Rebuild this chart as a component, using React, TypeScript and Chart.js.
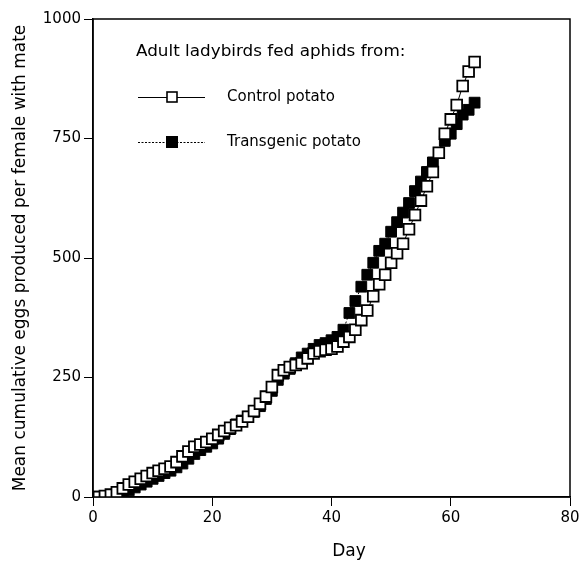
import React, { useEffect, useRef } from "react";
import { Chart, registerables } from "chart.js";

Chart.register(...registerables);

const days: number[] = Array.from({ length: 65 }, (_, i) => i);

const controlPotato: number[] = [
  0, 0, 2, 5, 10, 18, 26, 32, 38, 44, 50, 55, 59, 64, 73, 85, 95, 105, 110, 115,
  122, 130, 138, 145, 150, 158, 168, 180, 195, 210, 230, 255, 265, 272, 276, 280,
  290, 300, 305, 308, 310, 315, 325, 335, 350, 370, 390, 420, 445, 465, 490, 510,
  530, 560, 590, 620, 650, 680, 720, 760, 790, 820, 860, 890, 910,
];

const transgenicPotato: number[] = [
  0, 0, 0, 0, 3, 8, 14, 20, 26, 32, 38, 44, 50, 55, 62, 70, 80, 90, 98, 105,
  112, 122, 132, 142, 152, 160, 168, 178, 190, 205, 222, 245, 258, 268, 280, 292,
  300, 310, 318, 322, 328, 335, 350, 385, 410, 440, 465, 490, 515, 530, 555, 575,
  595, 615, 640, 660, 680, 700, 720, 745, 760, 780, 800, 810, 825,
];

const xTicks: number[] = [0, 20, 40, 60, 80];
const yTicks: number[] = [0, 250, 500, 750, 1000];

const legendTitle = "Adult ladybirds fed aphids from:";
const seriesNames: string[] = ["Control potato", "Transgenic potato"];
const xTitle = "Day";
const yTitle = "Mean cumulative eggs produced per female with mate";

const FONT = "'DejaVu Sans', sans-serif";

const framePlugin = {
  id: "frameAndLegend",
  afterDraw(chart: any) {
    const { ctx, chartArea } = chart;
    ctx.save();
    ctx.strokeStyle = "#000";
    ctx.lineWidth = 1.5;
    ctx.strokeRect(chartArea.left, chartArea.top, chartArea.right - chartArea.left, chartArea.bottom - chartArea.top);

    ctx.fillStyle = "#000";
    ctx.textBaseline = "middle";
    ctx.textAlign = "left";
    ctx.font = `15px ${FONT}`;
    ctx.save();
    ctx.translate(136, 52);
    ctx.scale(1.12, 1);
    ctx.fillText(legendTitle, 0, 0);
    ctx.restore();

    const rows = [97, 142];
    rows.forEach((y, i) => {
      ctx.beginPath();
      ctx.lineWidth = 1;
      ctx.strokeStyle = "#000";
      if (i === 1) ctx.setLineDash([2, 1.5]);
      else ctx.setLineDash([]);
      ctx.moveTo(138, y + 0.5);
      ctx.lineTo(205, y + 0.5);
      ctx.stroke();
      ctx.setLineDash([]);
      const s = 10;
      if (i === 0) {
        ctx.fillStyle = "#fff";
        ctx.fillRect(172 - s / 2, y - s / 2, s, s);
        ctx.lineWidth = 1.6;
        ctx.strokeRect(172 - s / 2, y - s / 2, s, s);
      } else {
        ctx.fillStyle = "#000";
        ctx.fillRect(172 - s / 2 - 1, y - s / 2 - 1, s + 2, s + 2);
      }
      ctx.fillStyle = "#000";
      ctx.font = `15px ${FONT}`;
      ctx.fillText(seriesNames[i], 227, y);
    });

    ctx.font = `17px ${FONT}`;
    ctx.textAlign = "center";
    ctx.fillText(xTitle, 349, 552);
    ctx.save();
    ctx.translate(21, 258);
    ctx.rotate(-Math.PI / 2);
    ctx.fillText(yTitle, 0, 0);
    ctx.restore();
    ctx.restore();
  },
};

export default function App() {
  const ref = useRef<HTMLCanvasElement | null>(null);

  useEffect(() => {
    document.body.style.margin = "0";
    const canvas = ref.current;
    if (!canvas) return;
    const chart = new Chart(canvas, {
      type: "line",
      data: {
        datasets: [
          {
            label: seriesNames[0],
            data: days.map((d, i) => ({ x: d, y: controlPotato[i] })),
            borderColor: "#000",
            borderWidth: 1,
            backgroundColor: "#fff",
            pointStyle: "rect",
            pointRadius: 7.6,
            pointBorderWidth: 1.8,
            pointBorderColor: "#000",
            pointBackgroundColor: "#fff",
            tension: 0,
          },
          {
            label: seriesNames[1],
            data: days.map((d, i) => ({ x: d, y: transgenicPotato[i] })),
            borderColor: "#000",
            borderWidth: 1,
            borderDash: [2, 2],
            backgroundColor: "#000",
            pointStyle: "rect",
            pointRadius: 7.6,
            pointBorderWidth: 1,
            pointBorderColor: "#000",
            pointBackgroundColor: "#000",
            tension: 0,
          },
        ],
      },
      options: {
        animation: false,
        responsive: false,
        devicePixelRatio: 1,
        layout: { padding: { left: 0, top: 19, right: 13, bottom: 0 } },
        plugins: { legend: { display: false }, tooltip: { enabled: false } },
        scales: {
          x: {
            type: "linear",
            min: 0,
            max: 80,
            afterBuildTicks: (scale: any) => {
              scale.ticks = xTicks.map((v) => ({ value: v }));
            },
            afterFit: (scale: any) => {
              scale.height = 68;
            },
            ticks: {
              color: "#000",
              font: { family: FONT, size: 15 },
              padding: 3,
              maxRotation: 0,
              callback: (v: any) => String(v),
            },
            grid: {
              drawOnChartArea: false,
              tickLength: 9,
              color: "#000",
              tickWidth: 1,
            },
            border: { display: true, color: "#000", width: 1.5 },
          },
          y: {
            type: "linear",
            min: 0,
            max: 1000,
            afterBuildTicks: (scale: any) => {
              scale.ticks = yTicks.map((v) => ({ value: v }));
            },
            afterFit: (scale: any) => {
              scale.width = 93;
            },
            ticks: {
              color: "#000",
              font: { family: FONT, size: 15 },
              padding: 3,
              callback: (v: any) => String(v),
            },
            grid: {
              drawOnChartArea: false,
              tickLength: 9,
              color: "#000",
              tickWidth: 1,
            },
            border: { display: true, color: "#000", width: 1.5 },
          },
        },
      },
      plugins: [framePlugin],
    });
    return () => chart.destroy();
  }, []);

  return (
    <canvas
      ref={ref}
      width={583}
      height={565}
      style={{ display: "block", width: 583, height: 565 }}
    />
  );
}
